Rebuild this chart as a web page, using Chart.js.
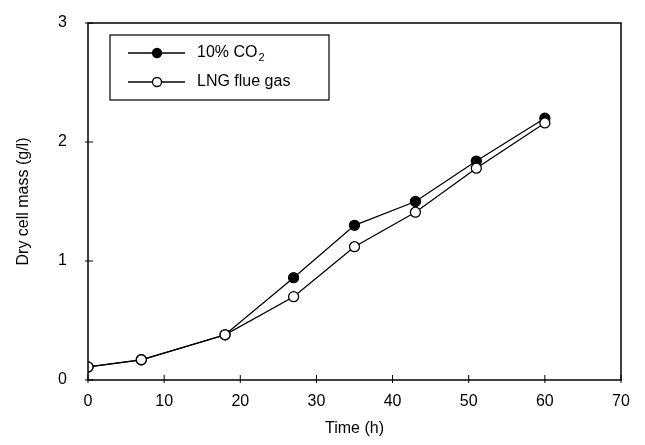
<!DOCTYPE html>
<html>
<head>
<meta charset="utf-8">
<script src="https://cdn.jsdelivr.net/npm/chart.js@4"></script>
<style>
    html, body { margin: 0; padding: 0; background: #fff; }
    #wrap { width: 645px; height: 445px; }
</style>
</head>
<body>
<div id="wrap"><canvas id="chart" width="645" height="445"></canvas></div>
<script>
// data
const timeHours = [0, 7, 18, 27, 35, 43, 51, 60];
const co2Mass = [0.11, 0.17, 0.38, 0.86, 1.3, 1.5, 1.84, 2.2];
const lngMass = [0.11, 0.17, 0.38, 0.7, 1.12, 1.41, 1.78, 2.16];
const xTicks = [0, 10, 20, 30, 40, 50, 60, 70];
const yTicks = [0, 1, 2, 3];

const font = 'Liberation Sans, Arial, Helvetica, sans-serif';

// frame, inward ticks and legend box
const framePlugin = {
    id: 'frame',
    afterDraw(chart) {
        const { ctx, chartArea: a, scales } = chart;
        ctx.save();
        ctx.strokeStyle = '#000';
        ctx.lineWidth = 1.5;
        ctx.strokeRect(a.left, a.top, a.right - a.left, a.bottom - a.top);
        ctx.lineWidth = 1;
        xTicks.forEach(v => {
            const x = scales.x.getPixelForValue(v);
            ctx.beginPath();
            ctx.moveTo(x, a.bottom + 3);
            ctx.lineTo(x, a.bottom - 5);
            ctx.stroke();
        });
        yTicks.forEach(v => {
            const y = scales.y.getPixelForValue(v);
            ctx.beginPath();
            ctx.moveTo(a.left - 3, y);
            ctx.lineTo(a.left + 5, y);
            ctx.stroke();
        });

        // legend
        const lx = 110, ly = 35, lw = 219, lh = 65;
        ctx.lineWidth = 1.2;
        ctx.strokeRect(lx, ly, lw, lh);
        const rows = [
            { y: 53, fill: '#000', label: '10% CO', sub: '2' },
            { y: 82, fill: '#fff', label: 'LNG flue gas', sub: '' }
        ];
        rows.forEach(r => {
            ctx.lineWidth = 1.3;
            ctx.beginPath();
            ctx.moveTo(128, r.y);
            ctx.lineTo(185, r.y);
            ctx.stroke();
            ctx.beginPath();
            ctx.arc(157, r.y, 4.5, 0, Math.PI * 2);
            ctx.fillStyle = r.fill;
            ctx.fill();
            ctx.stroke();
            ctx.fillStyle = '#000';
            ctx.font = '16px ' + font;
            ctx.textBaseline = 'middle';
            ctx.fillText(r.label, 197, r.y);
            if (r.sub) {
                const w = ctx.measureText(r.label).width;
                ctx.font = '11px ' + font;
                ctx.fillText(r.sub, 197 + w + 1, r.y + 5);
            }
        });
        ctx.restore();
    }
};

const tickFont = { family: font, size: 16 };

new Chart(document.getElementById('chart'), {
    type: 'line',
    data: {
        datasets: [
            {
                label: '10% CO2',
                data: timeHours.map((t, i) => ({ x: t, y: co2Mass[i] })),
                borderColor: '#000',
                borderWidth: 1.3,
                pointBackgroundColor: '#000',
                pointBorderColor: '#000',
                pointBorderWidth: 1.3,
                pointRadius: 5,
                tension: 0,
                order: 1
            },
            {
                label: 'LNG flue gas',
                data: timeHours.map((t, i) => ({ x: t, y: lngMass[i] })),
                borderColor: '#000',
                borderWidth: 1.3,
                pointBackgroundColor: '#fff',
                pointBorderColor: '#000',
                pointBorderWidth: 1.3,
                pointRadius: 5,
                tension: 0,
                order: 0
            }
        ]
    },
    options: {
        responsive: false,
        animation: false,
        events: [],
        layout: { padding: { top: 23, right: 24, left: 10, bottom: 5 } },
        plugins: { legend: { display: false }, tooltip: { enabled: false } },
        scales: {
            x: {
                type: 'linear',
                min: 0, max: 70,
                afterBuildTicks: s => { s.ticks = xTicks.map(v => ({ value: v })); },
                afterFit: s => { s.height = 60; s.paddingLeft = 0; s.paddingRight = 0; },
                grid: { display: false, drawTicks: false },
                border: { display: false },
                ticks: { color: '#000', font: tickFont, padding: 12 },
                title: { display: true, text: 'Time (h)', color: '#000', font: tickFont, padding: { top: 0, bottom: 2 } }
            },
            y: {
                type: 'linear',
                min: 0, max: 3,
                afterBuildTicks: s => { s.ticks = yTicks.map(v => ({ value: v })); },
                afterFit: s => { s.width = 78; s.paddingTop = 0; s.paddingBottom = 0; },
                grid: { display: false, drawTicks: false },
                border: { display: false },
                ticks: { color: '#000', font: tickFont, padding: 21 },
                title: { display: true, text: 'Dry cell mass (g/l)', color: '#000', font: tickFont, padding: { bottom: 10 } }
            }
        }
    },
    plugins: [framePlugin]
});
</script>
</body>
</html>
